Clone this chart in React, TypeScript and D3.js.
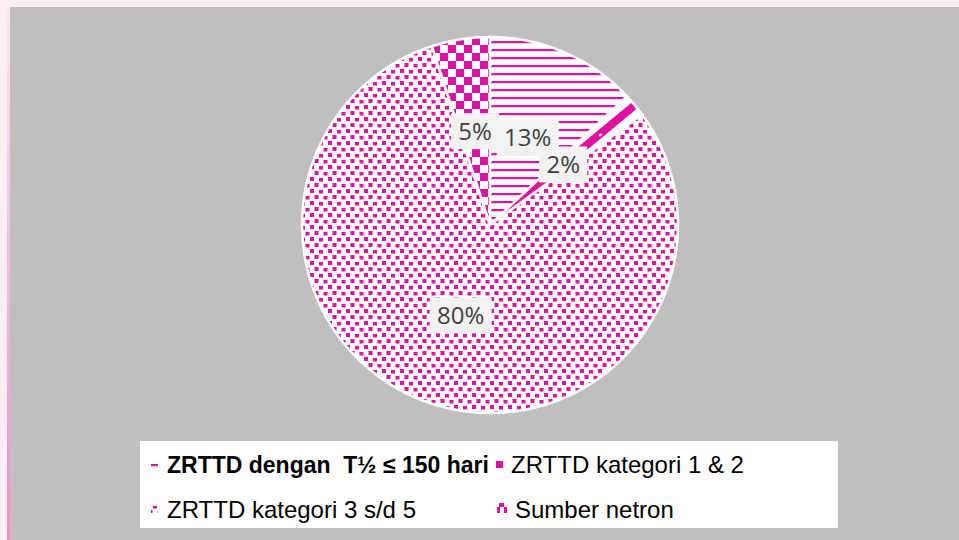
import React from "react";
import * as d3 from "d3";

const categories = [
  "ZRTTD dengan  T½ ≤ 150 hari",
  "ZRTTD kategori 1 & 2",
  "ZRTTD kategori 3 s/d 5",
  "Sumber netron",
];
const values = [13, 2, 80, 5];
const labels = ["13%", "2%", "80%", "5%"];

const PINK = "#E010A0";
const W = 959;
const H = 540;
const cx = 490;
const cy = 225;
const R = 188;

export default function App() {
  const pie = d3.pie<number>().sort(null).value((d) => d);
  const arcs = pie(values);
  const arc = d3.arc<d3.PieArcDatum<number>>().innerRadius(0).outerRadius(R);
  const labelArc = d3.arc<d3.PieArcDatum<number>>().innerRadius(95).outerRadius(95);

  const a1 = arcs[1];
  const mid1 = (a1.startAngle + a1.endAngle) / 2;
  const rotDeg = (Math.atan2(-Math.cos(mid1), Math.sin(mid1)) * 180) / Math.PI;

  const fills = ["url(#hlines)", "url(#diag)", "url(#confetti)", "url(#checker)"];
  const legendFills = ["url(#hlines)", PINK, "url(#confetti)", "url(#checker2)"];
  const legendPos = [
    { mx: 151, my: 461, tx: 167, ty: 473, bold: true },
    { mx: 496, my: 461, tx: 511, ty: 473, bold: false },
    { mx: 151, my: 506, tx: 167, ty: 518, bold: false },
    { mx: 497, my: 503, tx: 515, ty: 518, bold: false },
  ];

  return (
    <svg
      width={W}
      height={H}
      style={{ position: "absolute", left: 0, top: 0 }}
      xmlns="http://www.w3.org/2000/svg"
    >
      <defs>
        <linearGradient id="leftband" x1="0" y1="0" x2="0" y2="1">
          <stop offset="0" stopColor="#FBE6EF" />
          <stop offset="1" stopColor="#F48CC8" />
        </linearGradient>
        <pattern id="hlines" patternUnits="userSpaceOnUse" width={8} height={8}>
          <rect width={8} height={8} fill="#fff" />
          <rect y={0} width={8} height={2.2} fill={PINK} />
        </pattern>
        <pattern
          id="diag"
          patternUnits="userSpaceOnUse"
          width={400}
          height={80}
          patternTransform={`rotate(${rotDeg})`}
        >
          <rect width={400} height={80} fill="#fff" />
          <rect y={0} width={400} height={4} fill={PINK} />
          <rect y={76} width={400} height={4} fill={PINK} />
          <rect x={141} y={-1} width={3} height={3} fill="#fff" />
        </pattern>
        <pattern id="confetti" patternUnits="userSpaceOnUse" width={18} height={12}>
          <rect width={18} height={12} fill="#fff" />
          <rect x={0} y={0} width={4} height={4} fill={PINK} />
          <rect x={9} y={1} width={4} height={3.5} fill={PINK} />
          <rect x={4.5} y={6} width={4} height={4} fill={PINK} />
          <rect x={13.5} y={7} width={4} height={3.5} fill={PINK} />
        </pattern>
        <pattern id="checker" patternUnits="userSpaceOnUse" width={16} height={16} x={-50} y={-188}>
          <rect width={16} height={16} fill="#fff" />
          <rect x={0} y={0} width={8} height={8} fill={PINK} />
          <rect x={8} y={8} width={8} height={8} fill={PINK} />
        </pattern>
        <pattern id="checker2" patternUnits="userSpaceOnUse" width={10} height={10} x={497} y={503}>
          <rect width={10} height={10} fill="#fff" />
          <rect x={2} y={0} width={5} height={4} fill={PINK} />
          <rect x={0} y={4} width={3} height={6} fill={PINK} />
          <rect x={7} y={4} width={3} height={6} fill={PINK} />
        </pattern>
      </defs>

      <rect x={0} y={0} width={W} height={H} fill="#FBEFF4" />
      <rect x={7} y={7} width={3} height={H - 7} fill="url(#leftband)" />
      <rect x={10} y={7} width={W - 10} height={H - 7} fill="#BFBFBF" />

      <g transform={`translate(${cx},${cy})`}>
        {arcs.map((a, i) => (
          <path key={i} d={arc(a) || ""} fill={fills[i]} stroke="#fff" strokeWidth={2.5} />
        ))}
        {arcs.map((a, i) => {
          const [lx, ly] = labelArc.centroid(a);
          const bw = labels[i].length * 14 + 20;
          const bh = 36;
          return (
            <g key={"l" + i}>
              <rect x={lx - bw / 2} y={ly - bh / 2} width={bw} height={bh} fill="#F2F2F2" />
              <text
                x={lx}
                y={ly}
                dy="0.36em"
                textAnchor="middle"
                fontFamily="'Open Sans', Roboto, sans-serif"
                fontSize={24}
                fill="#404040"
              >
                {labels[i]}
              </text>
            </g>
          );
        })}
      </g>

      <rect x={140} y={441} width={698} height={87} fill="#fff" />
      {categories.map((c, i) => {
        const p = legendPos[i];
        return (
          <g key={"lg" + i}>
            <rect x={p.mx} y={p.my} width={i === 3 ? 10 : 7} height={i === 3 ? 10 : 7} fill={legendFills[i]} />
            <text
              x={p.tx}
              y={p.ty}
              fontFamily="'Liberation Sans', Arial, sans-serif"
              fontSize={p.bold ? 23 : 24}
              fontWeight={p.bold ? "bold" : "normal"}
              fill="#000"
              style={{ whiteSpace: "pre" }}
            >
              {c}
            </text>
          </g>
        );
      })}
    </svg>
  );
}
